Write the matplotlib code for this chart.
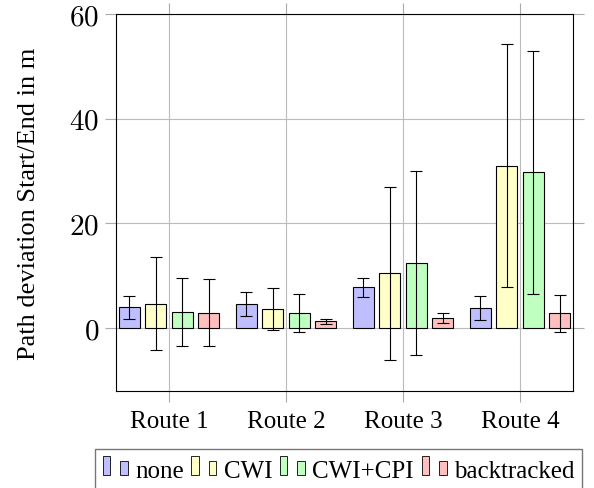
import numpy as np
import matplotlib
matplotlib.use("Agg")
import matplotlib.pyplot as plt
from matplotlib.patches import Rectangle
from matplotlib.legend_handler import HandlerBase

# data
routes = ["Route 1", "Route 2", "Route 3", "Route 4"]
methods = ["none", "CWI", "CWI+CPI", "backtracked"]
means = {
    "none":        [4.0, 4.65, 7.8, 3.8],
    "CWI":         [4.7, 3.6, 10.5, 31.05],
    "CWI+CPI":     [3.1, 2.9, 12.4, 29.8],
    "backtracked": [2.9, 1.3, 1.9, 2.8],
}
errs = {
    "none":        [2.2, 2.35, 1.8, 2.3],
    "CWI":         [8.85, 4.0, 16.5, 23.15],
    "CWI+CPI":     [6.45, 3.6, 17.6, 23.2],
    "backtracked": [6.4, 0.5, 0.9, 3.6],
}
colors = ["#bfbfff", "#ffffc8", "#bfffbf", "#ffbfbf"]

plt.rcParams["font.family"] = ["Liberation Serif", "DejaVu Serif"]
plt.rcParams["mathtext.fontset"] = "cm"


class TwoBars(HandlerBase):
    # pgfplots style ybar legend image: two small bars
    def create_artists(self, legend, orig, xd, yd, w, h, fs, trans):
        fc = orig.get_facecolor()
        x0, y0 = -xd, -yd + 0.18 * h
        r1 = Rectangle((x0, y0), 0.3 * w, 0.88 * h,
                       facecolor=fc, edgecolor="black", lw=0.6, transform=trans)
        r2 = Rectangle((x0 + 0.7 * w, y0), 0.3 * w, 0.64 * h,
                       facecolor=fc, edgecolor="black", lw=0.6, transform=trans)
        return [r1, r2]


fig = plt.figure(figsize=(5.94, 4.89), dpi=100)
ax = fig.add_axes([0.1953, 0.1984, 0.7693, 0.7709])

x = np.arange(len(routes))
step = 0.226
width = 0.18
handles = []
for i, m in enumerate(methods):
    pos = x + (i - 1.5) * step
    b = ax.bar(pos, means[m], width, color=colors[i], edgecolor="black",
               linewidth=0.8, zorder=3, label=m)
    ax.errorbar(pos, means[m], yerr=errs[m], fmt="none", ecolor="black",
                elinewidth=0.8, capsize=4, capthick=0.8, zorder=4)
    handles.append(b.patches[0])

ax.set_xlim(-0.453, 3.453)
ax.set_ylim(-12, 60)
ax.set_xticks(x)
ax.set_xticklabels(routes, fontsize=18)
ax.set_yticks([0, 20, 40, 60])
ax.set_yticklabels(["$%d$" % v for v in [0, 20, 40, 60]], fontsize=21)
ax.set_ylabel("Path deviation Start/End in m", fontsize=19, labelpad=21)

ax.grid(True, color="#bbbbbb", linewidth=0.8, zorder=0)
ax.tick_params(direction="out", length=8, width=0.8, color="#aaaaaa",
               top=True, right=True)
ax.tick_params(axis="x", pad=6)
ax.tick_params(axis="y", pad=4)
for s in ax.spines.values():
    s.set_linewidth(0.8)
    s.set_zorder(5)

fig.legend(handles, methods, handler_map={Rectangle: TwoBars()},
           loc="upper left", bbox_to_anchor=(0.16, 0.079), ncol=4,
           fontsize=18, frameon=True, fancybox=False, edgecolor="#555555",
           handlelength=1.0, handleheight=1.0, handletextpad=0.3,
           columnspacing=0.3, borderpad=0.3, borderaxespad=0)

fig.savefig("out.png", dpi=100)
